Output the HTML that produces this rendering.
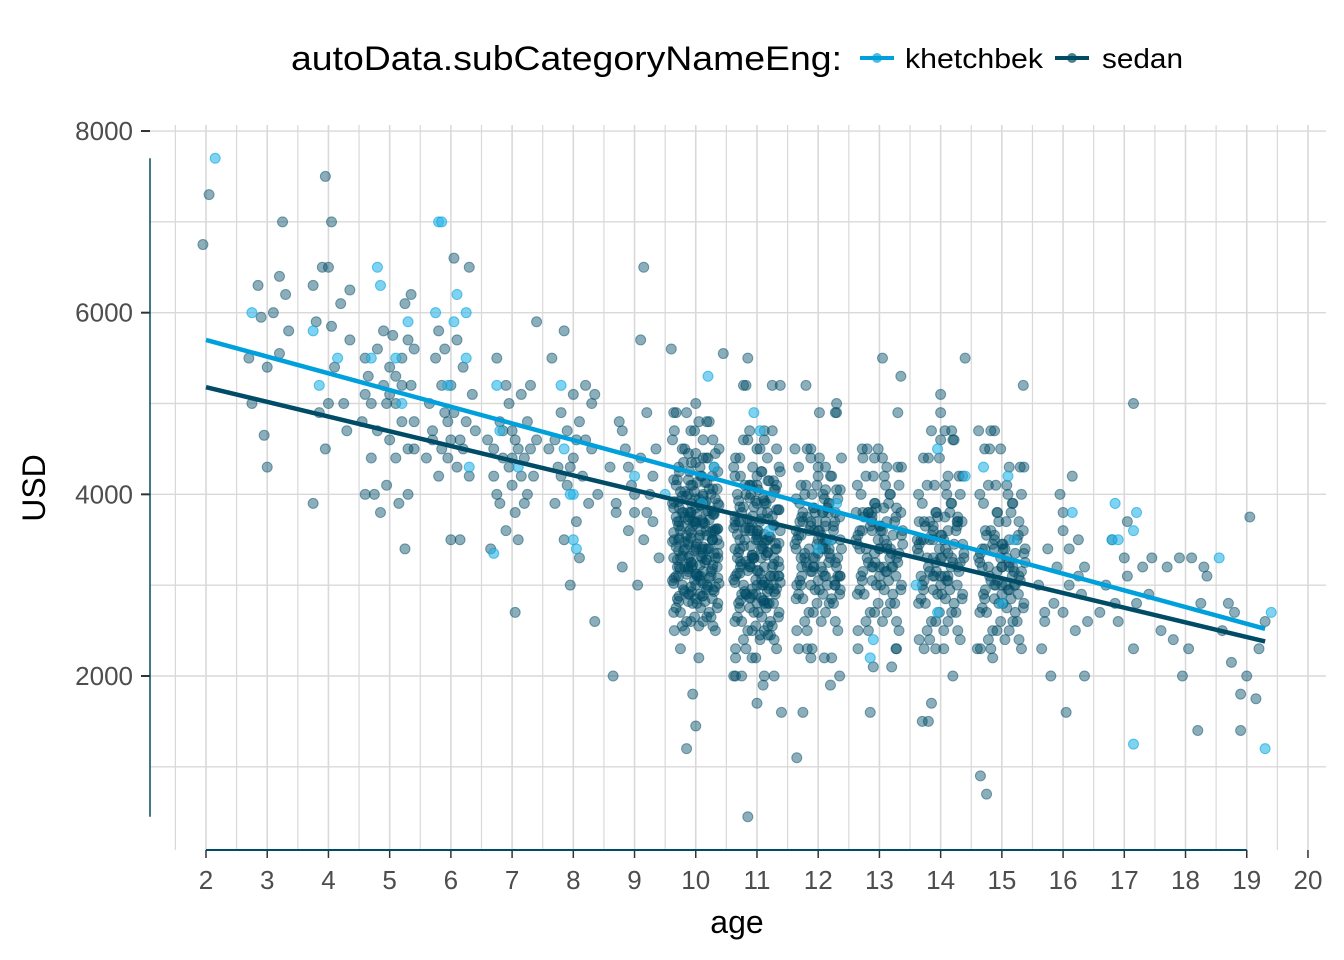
<!DOCTYPE html>
<html><head><meta charset="utf-8"><style>
html,body{margin:0;padding:0;background:#fff;}
svg{display:block;font-family:"Liberation Sans","DejaVu Sans",sans-serif;}
</style></head><body>
<svg id="chart" width="1344" height="960" viewBox="0 0 1344 960" xmlns="http://www.w3.org/2000/svg">
<g id="grid"></g>
<g id="axes"></g>
<g id="pts"></g>
<g id="lines"></g>
<g>
<text x="291" y="70" font-size="34" fill="#000" textLength="551" lengthAdjust="spacingAndGlyphs">autoData.subCategoryNameEng:</text>
<g>
<line x1="860" y1="58" x2="894" y2="58" stroke="#00a0dc" stroke-width="4"/><circle cx="877" cy="58" r="5" fill="#00a0dc" opacity="0.7"/>
<text x="905" y="68" font-size="28" fill="#000" textLength="138" lengthAdjust="spacingAndGlyphs">khetchbek</text></g>
<g>
<line x1="1055" y1="58" x2="1089" y2="58" stroke="#004c66" stroke-width="4"/><circle cx="1072" cy="58" r="5" fill="#004c66" opacity="0.7"/>
<text x="1102" y="68" font-size="28" fill="#000" textLength="81" lengthAdjust="spacingAndGlyphs">sedan</text></g>
</g>
<text x="737" y="933" font-size="32" text-anchor="middle" fill="#000">age</text>
<text transform="translate(45,488) rotate(-90)" font-size="32" text-anchor="middle" fill="#000">USD</text>
</svg>
<script>
const xTicks=[2,3,4,5,6,7,8,9,10,11,12,13,14,15,16,17,18,19,20];
const yTicks=[2000,4000,6000,8000];
const khetchbekPts=[[2.15,7700],[2.75,6000],[3.75,5800],[3.85,5200],[4.15,5500],[4.8,6500],[4.85,6300],[4.7,5500],[5.1,5500],[5.2,5000],[5.3,5900],[5.75,6000],[5.8,7000],[5.85,7000],[5.95,5200],[6.05,5900],[6.1,6200],[6.25,6000],[6.25,5500],[6.3,4300],[6.75,5200],[6.7,3350],[6.8,4700],[7.1,4300],[7.8,5200],[7.85,4500],[8.0,4000],[8.0,3500],[8.05,3400],[7.95,4000],[9.0,4200],[9.5,4000],[10.2,5300],[10.3,4300],[10.1,3900],[10.95,4900],[11.05,4700],[11.2,3600],[12.0,3400],[12.3,3900],[12.2,3500],[12.85,2200],[12.9,2400],[13.6,3000],[13.95,4500],[13.95,2700],[14.4,4200],[14.7,4300],[15.2,3500],[15.1,4200],[15.0,2800],[16.15,3800],[16.85,3900],[16.8,3500],[16.9,3500],[17.15,3600],[17.2,3800],[17.15,1250],[18.55,3300],[19.3,1200],[19.4,2700]];
const sedanPts=[[1.95,6750],[2.05,7300],[2.7,5500],[2.75,5000],[2.9,5950],[2.95,4650],[3,4300],[3,5400],[3.1,6000],[3.2,5550],[3.25,7000],[2.85,6300],[3.3,6200],[3.35,5800],[3.2,6400],
[3.75,6300],[3.8,5900],[3.75,3900],[3.85,4900],[3.9,6500],[3.95,7500],[4,6500],[3.95,4500],[4.05,5850],[4.05,7000],[4.1,5400],[4.2,6100],[4.25,5000],[4.3,4700],[4.35,6250],[4.35,5700],[4.0,5000],
[4.55,4800],[4.6,5100],[4.6,4000],[4.65,5300],[4.7,4400],[4.75,4000],[4.8,5600],[4.8,4700],[4.85,3800],[4.9,5800],[4.9,5200],[4.95,4100],[5,4600],[5,5400],[5.05,5750],[5.1,5000],[5.1,4400],[5.15,3900],[5.2,5500],[5.2,4800],[5.25,3400],[5.25,6100],[5.3,4000],[5.3,5700],[5.35,5200],[5.35,6200],[5.4,4500],[5.4,5600],[5.4,4800],[5.0,5100],[4.7,5000],[5.1,5300],[4.6,5500],[4.95,5000],[5.2,5200],[5.3,4500],
[5.6,4400],[5.65,5000],[5.7,4700],[5.75,5500],[5.8,4200],[5.85,5200],[5.9,4900],[5.9,5600],[5.95,4400],[6,4600],[6,5200],[6,3500],[6.05,6600],[6.1,5700],[6.1,4300],[6.15,3500],[6.2,5400],[6.25,4800],[6.3,6500],[6.3,4200],[6.35,5100],[6.4,4700],[5.8,5800],[6.2,4500],[5.7,4600],[5.85,4500],[6.05,4900],[6.15,4600],[5.95,4800],
[6.6,4600],[6.65,3400],[6.7,4200],[6.75,5500],[6.8,3900],[6.8,4800],[6.85,4400],[6.9,3600],[6.95,5000],[7,4100],[7,4700],[7.05,2700],[7.05,3800],[7.1,4500],[7.15,5100],[7.2,3900],[7.2,4400],[7.25,4800],[7.3,5200],[7.35,4200],[7.4,5900],[7.4,4600],[6.9,5200],[7.1,3500],[6.7,4500],[6.95,4300],[7.15,4200],[7.3,4500],[6.85,4700],[7.0,4400],[6.75,4000],[7.25,4000],[7.05,4600],
[7.6,4500],[7.65,5500],[7.7,3900],[7.75,4300],[7.8,4900],[7.85,3500],[7.9,4100],[7.9,4700],[7.95,3000],[8,4400],[8,5100],[8.05,3700],[8.1,4800],[8.15,4200],[8.2,5200],[8.25,3900],[8.3,4500],[8.35,2600],[8.35,5100],[8.4,4000],[7.85,5800],[8.1,3300],[7.7,4600],[7.95,4300],[8.2,4600],[8.3,5000],[7.8,4200],[8.05,4600],
[8.6,4300],[8.65,2000],[8.7,3900],[8.75,4800],[8.8,3200],[8.85,4500],[8.9,3600],[8.95,4100],[9,3800],[9.05,3000],[9.1,4400],[9.15,6500],[9.15,3500],[9.2,4900],[9.25,4000],[9.3,3700],[9.35,4500],[9.4,3300],[9.1,5700],[8.8,4700],[8.7,3800],[9.0,4000],[9.2,3800],[8.9,4300],[9.3,4200],
[9.6,5600],[9.85,1200],[10,1450],[10,5000],[10.45,5550],[9.95,1800],[10.05,2200],[9.75,2300],
[10.65,2000],[10.85,5500],[10.85,450],[11,1700],[11.4,1600],[11.25,5200],[11.1,1900],[10.75,2000],
[11.65,1100],[11.8,5200],[12.35,2000],[12.3,5000],[11.75,1600],[12.2,1900],
[12.85,1600],[13.05,5500],[13.35,5300],[12.9,2100],[13.2,2100],[13.3,4900],
[13.7,1500],[13.85,1700],[14.4,5500],[13.8,1500],[14,5100],[14.2,2000],[14,4900],
[14.65,900],[14.75,700],[15.35,5200],[14.85,2200],[14.6,2300],
[15.6,3000],[15.65,2300],[15.7,2600],[15.75,3400],[15.8,2000],[15.85,2800],[15.9,3200],[15.95,4000],[16,2700],[16,3600],[16.05,1600],[16.1,3000],[16.15,4200],[16.2,2500],[16.25,3500],[16.3,2900],[16.35,2000],[16.35,3200],[16.4,2600],[16.0,3800],[15.7,2700],[16.1,3400],[16.25,3100],
[16.6,2700],[16.7,3000],[16.8,3500],[16.85,2800],[16.9,2600],[17,3300],[17.05,3100],[17.15,2300],[17.15,5000],[17.2,2800],[17.3,3200],[17.4,2900],[17.45,3300],[17.05,3700],
[17.6,2500],[17.7,3200],[17.8,2400],[17.9,3300],[17.95,2000],[18.05,2300],[18.1,3300],[18.2,1400],[18.25,2800],[18.3,3200],[18.35,3100],
[18.6,2500],[18.7,2800],[18.75,2150],[18.8,2700],[18.9,1400],[18.9,1800],[19,2000],[19.05,3750],[19.15,1750],[19.2,2300],[19.3,2600]];
// dense cores: values per age column; each column is drawn with three jitter patterns
const jitterA=[-0.35,0.05,-0.15,0.25,-0.25,0.35,-0.05,0.15,-0.3,0.1,-0.1,0.3,-0.2,0.2,0,0.38,-0.38];
const jitterB=[0.32,-0.22,0.12,-0.02,0.22,-0.32,0.02,-0.12,0.27,-0.27,0.07,-0.07,0.17];
const jitterC=[-0.18,0.28,-0.08,0.18,-0.36,0.08,0.36,-0.28,0.0,0.12,-0.12];
const denseAges=[10,11,12,13,14,15];
const dense10=[2500,2550,2600,2650,2700,2750,2800,2820,2850,2880,2900,2930,2950,2980,3000,3020,3050,3080,3100,3120,3150,3180,3200,3220,3250,3280,3300,3320,3350,3380,3400,3420,3450,3480,3500,3520,3550,3580,3600,3620,3650,3680,3700,3720,3750,3780,3800,3820,3850,3880,3900,3920,3950,3980,4000,4030,4060,4100,4130,4160,4200,4250,4300,4350,4400,4450,4500,4600,4700,4800,4900,3100,3300,3500,3700,3900,3200,3400,3600,3800];
const dense11=[2300,2400,2500,2550,2600,2650,2700,2750,2800,2830,2860,2900,2930,2960,3000,3030,3060,3100,3130,3160,3200,3230,3260,3300,3330,3360,3400,3430,3460,3500,3530,3560,3600,3630,3660,3700,3730,3760,3800,3830,3860,3900,3930,3960,4000,4050,4100,4150,4200,4250,4300,4400,4500,4600,4700,2900,3100,3300,3500,3700,3000,3200,3400,3600,2800,4100,5200,2000,2200,2450];
const dense12=[2500,2600,2700,2800,2850,2900,2950,3000,3050,3100,3150,3200,3250,3300,3350,3400,3450,3500,3550,3600,3650,3700,3750,3800,3850,3900,3950,4000,4050,4100,4200,4300,4400,4500,3000,3200,3400,3600,3800,3100,3300,3500,3700,2200,2300,4900];
const dense13=[2500,2600,2700,2800,2900,2950,3000,3050,3100,3150,3200,3250,3300,3350,3400,3450,3500,3550,3600,3650,3700,3750,3800,3850,3900,4000,4100,4200,4300,4500,3200,3400,3600,3800,2300,4400];
const dense14=[2400,2500,2600,2700,2800,2850,2900,2950,3000,3050,3100,3150,3200,3250,3300,3350,3400,3450,3500,3550,3600,3650,3700,3750,3800,3900,4000,4100,4200,4400,4600,3100,3300,3500,3700,2300,4700];
const dense15=[2300,2400,2500,2600,2700,2750,2800,2850,2900,2950,3000,3050,3100,3150,3200,3250,3300,3350,3400,3450,3500,3550,3600,3700,3800,3900,4000,4100,4300,4500,3000,3200,3400,4700];
const denseCols=[dense10,dense11,dense12,dense13,dense14,dense15];
const khetchbekFit=[[2,5700],[19.3,2520]];
const sedanFit=[[2,5180],[19.3,2380]];

const X=a=>206+(a-2)*61.22;
const Y=v=>676-(v-2000)*0.09083;
const NS="http://www.w3.org/2000/svg";
function mk(tag,attrs,parent){const e=document.createElementNS(NS,tag);for(const k in attrs)e.setAttribute(k,attrs[k]);parent.appendChild(e);return e;}
const grid=document.getElementById('grid'),axes=document.getElementById('axes'),pts=document.getElementById('pts'),lines=document.getElementById('lines');
for(let a=1.5;a<=20.3;a+=0.5){const l=mk('line',{x1:X(a),x2:X(a),y1:125,y2:850,stroke:'#d9d9d9','stroke-width':Number.isInteger(a)?1.6:1.2},grid);

}
for(let v=1000;v<=8000;v+=1000){const l=mk('line',{x1:150,x2:1326,y1:Y(v),y2:Y(v),stroke:'#d9d9d9','stroke-width':1.4},grid);

}
xTicks.forEach(t=>{mk('line',{x1:X(t),x2:X(t),y1:850,y2:858,stroke:'#333','stroke-width':1.5},axes);
const tx=mk('text',{x:X(t),y:889,'font-size':26,'text-anchor':'middle',fill:'#4d4d4d'},axes);tx.textContent=t;

});
yTicks.forEach(t=>{mk('line',{x1:141,x2:150,y1:Y(t),y2:Y(t),stroke:'#333','stroke-width':2},axes);
const tx=mk('text',{x:133,y:Y(t)+9,'font-size':26,'text-anchor':'end',fill:'#4d4d4d'},axes);tx.textContent=t;

});
mk('line',{x1:X(2),x2:X(19),y1:850,y2:850,stroke:'#004c66','stroke-width':2},axes);
mk('line',{x1:150,x2:150,y1:Y(7700),y2:Y(450),stroke:'#004c66','stroke-width':1.5},axes);
function sedanDot(a,v){const c=mk('circle',{cx:X(a),cy:Y(v),r:5,fill:'#004c66','fill-opacity':0.45,stroke:'#004c66','stroke-opacity':0.5,'stroke-width':1},pts);

}
sedanPts.forEach(p=>sedanDot(p[0],p[1]));
[jitterA,jitterB,jitterC].forEach(J=>denseCols.forEach((col,ci)=>col.forEach((v,i)=>sedanDot(denseAges[ci]+J[i%J.length],v))));
khetchbekPts.forEach(p=>{const c=mk('circle',{cx:X(p[0]),cy:Y(p[1]),r:5,fill:'#29b6e8','fill-opacity':0.6,stroke:'#00a0dc','stroke-opacity':0.6,'stroke-width':1},pts);

});
[[khetchbekFit,'#00a0dc','khetchbek-trend-line'],[sedanFit,'#004c66','sedan-trend-line']].forEach(([f,c,n])=>{
const l=mk('line',{x1:X(f[0][0]),y1:Y(f[0][1]),x2:X(f[1][0]),y2:Y(f[1][1]),stroke:c,'stroke-width':4.5},lines);

});
</script>
</body></html>
